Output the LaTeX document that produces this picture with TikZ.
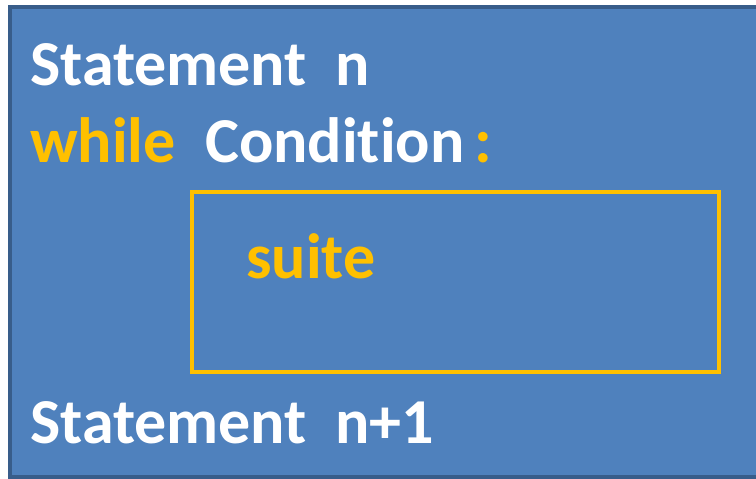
\documentclass[tikz,border=0pt]{standalone}
\usepackage{fontspec}
\setmainfont{Carlito}[Ligatures=CommonOff]
\definecolor{boxblue}{HTML}{4F81BD}
\definecolor{edgeblue}{HTML}{385D8A}
\definecolor{gold}{HTML}{FFC000}
\begin{document}
\begin{tikzpicture}[x=1pt,y=-1pt,
  txt/.style={anchor=base west,inner sep=0pt,font=\fontsize{64}{66}\selectfont\bfseries},
  wtxt/.style={txt,text=white},
  ytxt/.style={txt,text=gold}]
\useasboundingbox (0,0) rectangle (756,479);
\draw[fill=boxblue,draw=edgeblue,line width=4pt] (10,7) rectangle (770,477);
\draw[gold,line width=4pt] (191.5,191.5) rectangle (719,372) node[coordinate] (suitebox) {};
\node[wtxt] (s1) at (30,85) {Statement};
\node[wtxt] (n1) at (335,85) {n};
\node[ytxt] (wh) at (30,162) {while};
\node[wtxt] (cond) at (205,162) {Condition};
\node[ytxt] (colon) at (474,162) {:};
\node[ytxt] (suite) at (246,278) {suite};
\node[wtxt] (s2) at (30,443) {Statement};
\node[wtxt] (n2) at (335,443) {n+1};
\end{tikzpicture}
\end{document}
